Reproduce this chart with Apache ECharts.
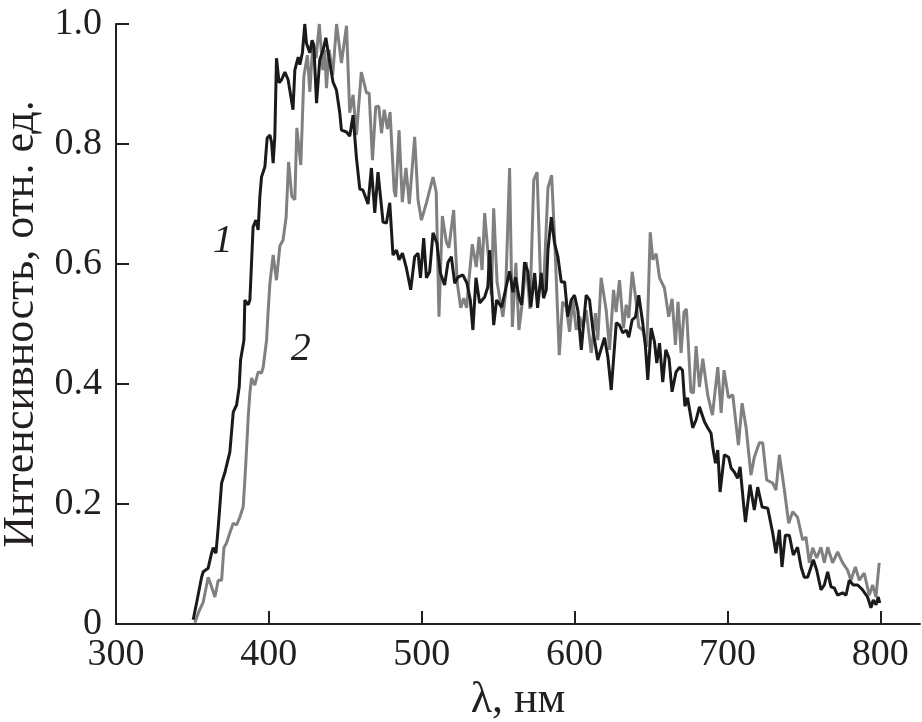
<!DOCTYPE html>
<html>
<head>
<meta charset="utf-8">
<script src="https://cdn.jsdelivr.net/npm/echarts@6/dist/echarts.min.js"></script>
<style>
html,body{margin:0;padding:0;background:#fff;}
#chart{width:922px;height:722px;}
</style>
</head>
<body>
<div id="chart"></div>
<script>
// Curve 1 (black): wavelength (nm) and relative intensity
var wl1 = [350.5,352.7,356.0,357.1,360.3,362.5,363.6,365.4,366.9,369.1,371.2,374.5,376.7,378.9,380.6,381.5,383.7,384.3,386.5,387.6,389.7,391.5,393.0,394.1,395.2,397.4,398.9,400.7,401.8,402.8,403.9,405.0,406.7,408.3,410.5,412.6,414.8,415.8,417.0,419.2,420.3,422.0,423.5,424.6,426.8,428.3,429.4,431.2,433.3,435.5,437.3,439.9,442.0,444.2,446.4,447.5,450.8,452.9,455.1,457.3,459.5,461.6,464.9,467.1,469.3,471.4,474.7,476.9,479.1,481.2,483.5,485.2,487.4,490.0,492.8,495.4,497.6,499.2,501.3,503.1,505.2,507.4,509.9,512.2,515.0,517.2,519.4,521.6,523.7,526.9,529.6,531.8,533.5,535.5,537.9,541.2,543.3,544.4,547.1,549.0,552.3,557.5,559.7,561.4,563.6,565.4,567.3,569.5,571.4,573.9,575.8,578.2,579.7,581.5,582.6,584.8,586.9,589.1,591.3,593.5,595.6,597.8,600.0,602.2,604.4,607.6,609.8,612.0,615.2,619.6,621.8,624.0,627.3,629.4,631.6,633.8,635.5,637.7,639.9,642.0,644.6,646.4,647.9,650.1,652.3,653.8,655.6,657.7,659.7,661.8,663.8,666.4,668.8,670.6,672.2,673.9,677.3,679.5,681.7,685.0,687.1,689.3,690.4,692.2,693.7,695.2,698.0,700.8,702.4,704.6,706.7,708.3,710.5,711.8,714.8,717.6,719.8,722.7,726.4,729.6,731.8,734.0,735.7,737.9,740.5,743.1,745.9,748.2,750.3,752.5,754.7,756.2,758.4,761.2,763.4,765.6,767.8,769.9,772.1,775.4,777.6,779.7,782.4,785.2,788.4,791.7,793.9,795.4,797.2,798.7,799.7];
var int1 = [0.007,0.035,0.078,0.087,0.093,0.118,0.127,0.118,0.162,0.235,0.252,0.287,0.353,0.365,0.395,0.44,0.473,0.54,0.532,0.54,0.662,0.673,0.657,0.712,0.745,0.762,0.81,0.815,0.802,0.768,0.812,0.943,0.902,0.907,0.92,0.907,0.873,0.857,0.923,0.945,0.932,0.953,1.0,0.968,0.952,0.973,0.965,0.868,0.94,0.957,0.977,0.935,0.903,0.89,0.852,0.823,0.82,0.813,0.848,0.777,0.725,0.723,0.70,0.76,0.685,0.753,0.67,0.668,0.702,0.615,0.623,0.607,0.618,0.593,0.557,0.612,0.618,0.577,0.643,0.577,0.587,0.652,0.635,0.585,0.565,0.603,0.612,0.568,0.578,0.582,0.568,0.54,0.49,0.577,0.535,0.545,0.562,0.623,0.498,0.54,0.528,0.588,0.553,0.578,0.545,0.532,0.603,0.587,0.528,0.585,0.527,0.585,0.543,0.557,0.623,0.678,0.635,0.612,0.57,0.57,0.512,0.54,0.548,0.522,0.457,0.548,0.54,0.49,0.44,0.477,0.445,0.39,0.502,0.498,0.485,0.49,0.478,0.507,0.512,0.548,0.502,0.462,0.407,0.493,0.47,0.435,0.468,0.403,0.457,0.443,0.387,0.42,0.428,0.423,0.363,0.377,0.327,0.34,0.362,0.337,0.327,0.318,0.295,0.268,0.29,0.22,0.282,0.278,0.26,0.253,0.243,0.262,0.202,0.17,0.232,0.19,0.228,0.195,0.193,0.152,0.118,0.157,0.095,0.148,0.148,0.115,0.128,0.095,0.078,0.078,0.095,0.107,0.09,0.057,0.065,0.087,0.062,0.06,0.048,0.052,0.048,0.073,0.065,0.065,0.057,0.045,0.027,0.04,0.032,0.045,0.035];

// Curve 2 (gray)
var wl2 = [351.6,353.8,357.1,360.3,362.5,364.7,366.9,369.1,370.6,372.3,374.5,376.7,378.9,381.0,383.2,384.3,385.4,386.5,387.6,388.7,390.8,393.0,395.2,396.3,398.5,399.5,400.7,402.8,405.0,407.2,409.3,411.3,412.9,415.0,417.0,418.3,420.9,422.9,425.2,426.8,428.8,430.9,433.0,435.3,436.6,437.7,439.4,441.8,444.3,447.5,450.8,452.9,455.1,457.3,460.5,463.9,465.6,467.8,469.9,471.9,473.7,475.5,477.6,479.3,482.0,483.0,485.2,487.3,489.7,491.9,495.4,497.6,499.8,503.1,507.4,509.5,511.3,513.5,516.1,517.8,520.9,523.2,525.5,527.5,529.4,530.9,533.1,535.7,537.5,539.5,541.2,543.3,545.6,547.1,549.3,553.1,554.9,557.5,559.3,561.6,563.6,566.0,568.4,570.8,573.3,575.5,577.8,579.7,582.6,585.0,587.3,590.0,592.2,594.6,596.7,598.9,601.1,603.3,605.4,607.6,610.9,613.7,615.2,617.4,620.7,622.9,625.5,627.2,629.4,632.0,633.8,635.5,637.7,639.9,642.0,644.6,647.3,649.5,651.2,653.4,655.6,658.8,661.6,663.8,666.0,667.7,669.7,671.6,673.2,676.1,677.8,679.5,681.7,683.9,687.1,690.2,693.7,695.9,697.8,700.7,703.5,707.2,709.6,712.2,715.4,717.6,720.9,723.1,725.7,729.6,731.8,734.0,737.3,740.1,742.7,745.9,749.2,751.4,753.6,755.8,758.4,761.2,763.4,765.6,768.8,772.1,775.4,778.6,780.8,783.7,786.3,789.5,792.8,795.0,797.2,799.3];
var int2 = [0.002,0.018,0.037,0.078,0.062,0.045,0.073,0.073,0.127,0.135,0.152,0.168,0.165,0.178,0.195,0.24,0.29,0.345,0.385,0.41,0.398,0.42,0.418,0.428,0.473,0.52,0.568,0.615,0.573,0.63,0.64,0.678,0.77,0.713,0.707,0.827,0.765,0.913,0.948,0.887,0.968,0.943,1.0,0.923,0.957,0.893,0.957,0.915,1.0,0.935,0.997,0.852,0.882,0.815,0.92,0.885,0.885,0.773,0.862,0.863,0.818,0.857,0.825,0.853,0.722,0.712,0.823,0.703,0.76,0.70,0.812,0.707,0.673,0.702,0.745,0.72,0.512,0.68,0.637,0.627,0.69,0.57,0.527,0.543,0.527,0.573,0.633,0.595,0.645,0.59,0.685,0.62,0.548,0.693,0.57,0.512,0.552,0.76,0.495,0.602,0.49,0.54,0.603,0.525,0.74,0.753,0.568,0.557,0.727,0.748,0.623,0.448,0.537,0.528,0.487,0.54,0.49,0.512,0.495,0.523,0.452,0.518,0.473,0.577,0.523,0.457,0.557,0.52,0.573,0.493,0.532,0.51,0.587,0.545,0.495,0.49,0.462,0.653,0.607,0.617,0.577,0.56,0.512,0.542,0.465,0.537,0.452,0.52,0.525,0.387,0.385,0.463,0.395,0.442,0.382,0.348,0.428,0.352,0.423,0.377,0.382,0.298,0.368,0.328,0.248,0.278,0.302,0.302,0.24,0.235,0.223,0.282,0.223,0.168,0.187,0.178,0.14,0.145,0.102,0.127,0.11,0.128,0.102,0.128,0.102,0.12,0.102,0.09,0.073,0.095,0.073,0.085,0.048,0.065,0.045,0.102];

// Axis ticks and labels
var xTickValues = [400, 500, 600, 700, 800];
var xLabelValues = [300, 400, 500, 600, 700, 800];
var yTickValues = [0.2, 0.4, 0.6, 0.8, 1.0];
var yLabelValues = [0, 0.2, 0.4, 0.6, 0.8, 1.0];

// Curve number labels (data coordinates)
var curveLabels = ['1', '2'];
var curveLabelPos = [[369.9, 0.638], [420.9, 0.457]];

function pairs(xs, ys) {
  var out = [];
  for (var i = 0; i < xs.length; i++) out.push([xs[i], ys[i]]);
  return out;
}

var FONT = "'Liberation Serif','Times New Roman',serif";
var AXIS_COLOR = '#231f20';

var chart = echarts.init(document.getElementById('chart'), null, {renderer: 'canvas'});
chart.setOption({
  backgroundColor: '#fff',
  animation: false,
  grid: {left: 116, right: 2, top: 24, bottom: 98, containLabel: false, outerBoundsMode: 'none'},
  xAxis: {
    type: 'value', min: 300, max: 826,
    name: 'λ, нм', nameLocation: 'middle', nameGap: 48,
    nameTextStyle: {fontFamily: FONT, fontSize: 44, color: AXIS_COLOR},
    axisLine: {show: true, onZero: false, lineStyle: {color: AXIS_COLOR, width: 2}},
    axisTick: {show: true, inside: true, length: 13, customValues: xTickValues, lineStyle: {color: AXIS_COLOR, width: 2}},
    axisLabel: {show: true, customValues: xLabelValues, margin: 12, fontFamily: FONT, fontSize: 38, color: AXIS_COLOR},
    splitLine: {show: false}
  },
  yAxis: {
    type: 'value', min: 0, max: 1,
    name: 'Интенсивность, отн. ед.', nameLocation: 'middle', nameGap: 66, nameRotate: 90,
    nameTextStyle: {fontFamily: FONT, fontSize: 44, color: AXIS_COLOR},
    axisLine: {show: true, lineStyle: {color: AXIS_COLOR, width: 2}},
    axisTick: {show: true, inside: true, length: 13, customValues: yTickValues, lineStyle: {color: AXIS_COLOR, width: 2}},
    axisLabel: {show: true, customValues: yLabelValues, margin: 14, fontFamily: FONT, fontSize: 38, color: AXIS_COLOR,
      formatter: function (v) { return v === 0 ? '0' : v.toFixed(1); }},
    splitLine: {show: false}
  },
  series: [
    {
      name: '2', type: 'line', data: pairs(wl2, int2), showSymbol: false, symbol: 'none', clip: false,
      lineStyle: {color: '#808080', width: 3}, z: 2,
      markPoint: {
        symbol: 'circle', symbolSize: 1, itemStyle: {color: 'rgba(0,0,0,0)'},
        label: {show: true, position: 'inside', formatter: curveLabels[1], fontFamily: FONT, fontStyle: 'italic', fontSize: 40, color: '#231f20'},
        data: [{coord: curveLabelPos[1]}]
      }
    },
    {
      name: '1', type: 'line', data: pairs(wl1, int1), showSymbol: false, symbol: 'none', clip: false,
      lineStyle: {color: '#1a1a1a', width: 3}, z: 3,
      markPoint: {
        symbol: 'circle', symbolSize: 1, itemStyle: {color: 'rgba(0,0,0,0)'},
        label: {show: true, position: 'inside', formatter: curveLabels[0], fontFamily: FONT, fontStyle: 'italic', fontSize: 40, color: '#231f20'},
        data: [{coord: curveLabelPos[0]}]
      }
    }
  ]
});
</script>
</body>
</html>
